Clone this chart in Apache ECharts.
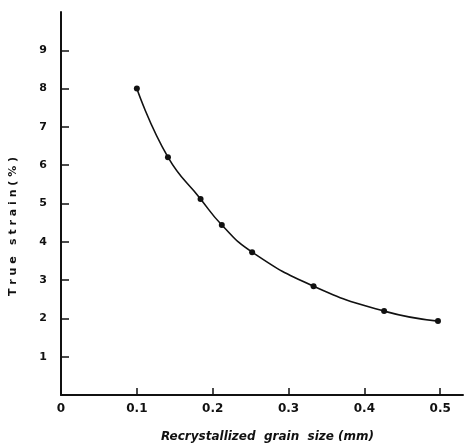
<!DOCTYPE html>
<html>
<head>
<meta charset="utf-8">
<script src="https://cdn.jsdelivr.net/npm/echarts@6/dist/echarts.min.js"></script>
<style>
  html, body { margin: 0; padding: 0; background: #fff; }
  #chart { width: 466px; height: 448px; }
</style>
</head>
<body>
<div id="chart"></div>
<script>
// grain size (mm) vs true strain (%)
const grainSize = [0.1, 0.141, 0.184, 0.212, 0.252, 0.333, 0.426, 0.497];
const trueStrain = [8.0, 6.21, 5.12, 4.44, 3.73, 2.84, 2.19, 1.93];
const xTicks = [0, 0.1, 0.2, 0.3, 0.4, 0.5];
const yTicks = [1, 2, 3, 4, 5, 6, 7, 8, 9];

const chart = echarts.init(document.getElementById("chart"));
const font = { color: "#111", fontFamily: "DejaVu Sans", fontWeight: "bold", fontSize: 11 };

chart.setOption({
  animation: false,
  grid: { left: 58, right: 3, top: 12, bottom: 51 },
  xAxis: {
    type: "value",
    min: 0,
    max: 0.53,
    interval: 0.1,
    name: "Recrystallized  grain  size (mm)",
    nameLocation: "middle",
    nameGap: 36,
    nameTextStyle: { ...font, fontSize: 12, fontStyle: "italic", padding: [0, 0, 0, 11] },
    axisLine: { lineStyle: { color: "#111", width: 2 } },
    axisTick: { inside: true, length: 7, lineStyle: { color: "#111", width: 1.5 } },
    axisLabel: {
      ...font,
      fontSize: 12,
      margin: 8,
      showMaxLabel: false,
      formatter: (v) => (xTicks.some((t) => Math.abs(t - v) < 1e-6) ? (v === 0 ? "0" : v.toFixed(1)) : "")
    },
    splitLine: { show: false }
  },
  yAxis: {
    type: "value",
    min: 0,
    max: 10,
    interval: 1,
    name: "T r u e   s t r a i n ( % )",
    nameLocation: "middle",
    nameGap: 42,
    nameTextStyle: { ...font, padding: [0, 46, 0, 0] },
    axisLine: { lineStyle: { color: "#111", width: 2 } },
    axisTick: { inside: true, length: 8, lineStyle: { color: "#111", width: 1.5 } },
    axisLabel: {
      ...font,
      margin: 14,
      showMinLabel: false,
      showMaxLabel: false,
      formatter: (v) => (yTicks.includes(v) ? String(v) : "")
    },
    splitLine: { show: false }
  },
  series: [
    {
      type: "line",
      data: grainSize.map((x, i) => [x, trueStrain[i]]),
      smooth: true,
      symbol: "circle",
      symbolSize: 6,
      itemStyle: { color: "#111" },
      lineStyle: { color: "#111", width: 1.6 }
    }
  ]
});
</script>
</body>
</html>
